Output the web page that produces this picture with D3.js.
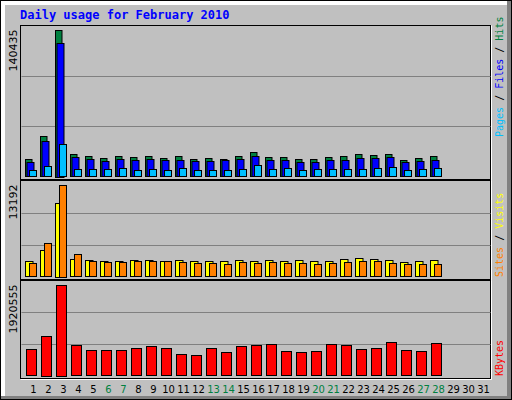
<!DOCTYPE html>
<html><head><meta charset="utf-8">
<script src="https://cdn.jsdelivr.net/npm/d3@7"></script>
<style>body{margin:0;background:#fff}svg{display:block}</style>
</head><body><svg id="chart"></svg>
<script>
// values
const days = d3.range(1, 32);
const weekend = [6, 7, 13, 14, 20, 21, 27, 28];
const hits = [16500,38440,140435,21290,19380,17470,19380,18430,19380,17470,19380,16520,17470,16520,19380,23190,18430,18430,16520,16520,18430,19380,21290,20330,21290,15570,17470,19380];
const files = [13660,33680,128030,18430,16520,14610,16520,15570,16520,15570,15570,14610,14610,15570,16520,19380,15570,15570,13660,13660,15570,15570,17470,17470,18430,13660,14610,15570];
const pages = [6040,9850,30820,6990,6990,6990,7940,6040,6990,6040,7940,6040,6040,6040,6990,10800,6990,7940,6040,6990,6990,6990,6990,7940,8890,6040,6990,7940];
const visits = [2190,3762,10620,2475,2330,2190,2190,2330,2330,2190,2330,2190,2190,2190,2330,2190,2330,2190,2330,2190,2190,2475,2620,2475,2330,2050,2190,2330];
const sites = [1905,4762,13192,3190,2190,2050,2050,2190,2190,2190,2050,1905,1905,1760,2050,1905,2050,1905,1905,1760,1905,2050,2190,2190,1905,1760,1760,1760];
const kbytes = [553700,848100,1920555,637800,532700,532700,532700,574700,616800,574700,448600,427500,574700,490600,616800,637800,658800,511600,490600,511600,658800,637800,553700,574700,700900,532700,511600,679800];

const svg = d3.select('#chart').attr('width', 512).attr('height', 400);
const font = 'DejaVu Sans, sans-serif';

// frame
svg.append('rect').attr('x', 0).attr('y', 0).attr('width', 512).attr('height', 400).attr('fill', '#000');
svg.append('rect').attr('x', 1).attr('y', 1).attr('width', 510).attr('height', 398).attr('fill', '#808080');
svg.append('rect').attr('x', 1).attr('y', 1).attr('width', 506).attr('height', 395).attr('fill', '#fff');
svg.append('rect').attr('x', 5).attr('y', 5).attr('width', 502).attr('height', 391).attr('fill', '#c0c0c0');

svg.append('text').attr('x', 20).attr('y', 19)
  .attr('font-family', 'DejaVu Sans Mono, monospace').attr('font-weight', 'bold').attr('font-size', 12)
  .attr('fill', '#0000ff').text('Daily usage for February 2010');

const x = d3.scaleLinear().domain([1, 31]).range([33.5, 483.5]);
const left = 20.5, right = 490.5;

function panel(top, bottom, base, max) {
  svg.append('line').attr('x1', left).attr('x2', right + 1).attr('y1', bottom + 1).attr('y2', bottom + 1).attr('stroke', '#fff');
  svg.append('line').attr('x1', right + 1).attr('x2', right + 1).attr('y1', top).attr('y2', bottom + 1).attr('stroke', '#fff');
  svg.append('rect').attr('x', left).attr('y', top).attr('width', right - left).attr('height', bottom - top)
    .attr('fill', 'none').attr('stroke', '#000');
  const y = d3.scaleLinear().domain([0, max]).range([base, top + 4.5]);
  [0.333, 0.666].forEach(f => {
    const gy = Math.round(base - (base - top) * f) + 0.5;
    svg.append('line').attr('x1', left + 1).attr('x2', right).attr('y1', gy).attr('y2', gy).attr('stroke', '#808080');
  });
  svg.append('text').attr('transform', `translate(17,${top + 4}) rotate(-90)`)
    .attr('text-anchor', 'end').attr('font-family', font).attr('font-size', 11).text(max);
  return y;
}

function bars(vals, y, base, x0, x1, color) {
  svg.append('g').selectAll('rect').data(vals).enter().append('rect')
    .attr('x', (d, i) => x(i + 1) + x0 + 0.5)
    .attr('y', d => Math.round(y(d)) + 0.5)
    .attr('width', x1 - x0)
    .attr('height', d => Math.max(0, Math.round(base - y(d))))
    .attr('fill', color).attr('stroke', '#000');
}

const y1 = panel(25.5, 179.5, 176.5, d3.max(hits));
bars(hits, y1, 176.5, -8.5, -2, '#008040');
bars(files, y1, 176.5, -7, 0, '#0000ff');
bars(pages, y1, 176.5, -4.5, 2.5, '#00c0ff');

const y2 = panel(180.5, 279.5, 276.5, d3.max(sites));
bars(visits, y2, 276.5, -8.5, -1, '#ffff00');
bars(sites, y2, 276.5, -4.5, 2.5, '#ff8000');

const y3 = panel(280.5, 378.5, 375.5, d3.max(kbytes));
bars(kbytes, y3, 375.5, -7.5, 2.5, '#ff0000');

svg.append('g').selectAll('text').data(days).enter().append('text')
  .attr('x', d => x(d)).attr('y', 393).attr('text-anchor', 'middle')
  .attr('font-family', font).attr('font-size', 10)
  .attr('fill', d => weekend.includes(d) ? '#008040' : '#000').text(d => d);

function legend(parts, yBottom) {
  const t = svg.append('text').attr('transform', `translate(503,${yBottom}) rotate(-90)`)
    .attr('font-family', 'DejaVu Sans Mono, monospace').attr('font-size', 10);
  parts.forEach(([s, c]) => t.append('tspan').attr('fill', c).text(s));
}
legend([['Pages', '#00c0ff'], [' / ', '#000'], ['Files', '#0000ff'], [' / ', '#000'], ['Hits', '#008040']], 137);
legend([['Sites', '#ff8000'], [' / ', '#000'], ['Visits', '#ffff00']], 277);
legend([['KBytes', '#ff0000']], 376);
</script></body></html>
